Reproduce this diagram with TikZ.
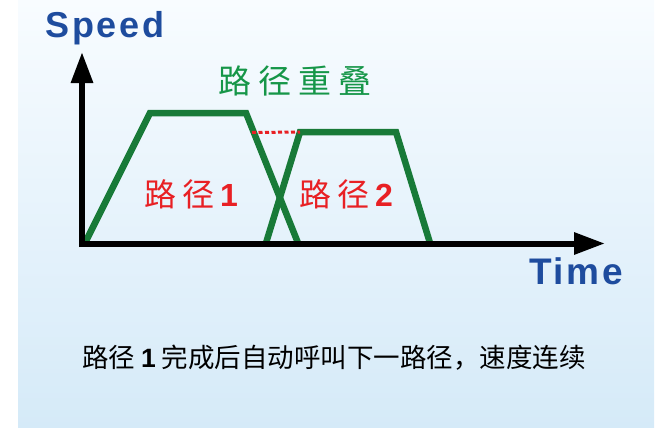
\documentclass[tikz,border=0pt]{standalone}
\usepackage{fontspec}
\usepackage{tikz}
\usetikzlibrary{arrows.meta}
\setmainfont{Liberation Sans}
\newfontfamily\cjk{Noto Sans CJK SC}
\newfontfamily\spaced[LetterSpace=7]{Liberation Sans}
\definecolor{axisblue}{RGB}{30,76,158}
\definecolor{pathgreen}{RGB}{24,122,56}
\definecolor{textgreen}{RGB}{22,150,72}
\definecolor{pathred}{RGB}{232,32,36}
\definecolor{paneltop}{RGB}{248,252,255}
\definecolor{panelbot}{RGB}{213,234,248}

\begin{document}
\begin{tikzpicture}[x=1pt,y=-1pt]
	\tikzstyle{axis}=[line width=6pt, -{Triangle[length=31pt,width=21pt]}];
	\tikzstyle{profile}=[line width=6.5pt, draw=pathgreen, line join=miter];
	\tikzstyle{overlap}=[line width=3pt, draw=pathred, dash pattern=on 4pt off 2.5pt];
	\tikzstyle{lnode}=[inner sep=0pt, font=\fontsize{36}{36}\spaced\bfseries\color{axisblue}];
	\tikzstyle{pnode}=[inner sep=0pt, font=\fontsize{32}{32}\selectfont\cjk\color{pathred}];
	\tikzstyle{gnode}=[inner sep=0pt, font=\fontsize{33}{33}\selectfont\cjk\color{textgreen}];
	\tikzstyle{dnode}=[inner sep=0pt, font=\fontsize{26.5}{26.5}\selectfont\cjk\color{black}];

	\useasboundingbox (0,0) rectangle (661,428);
	\shade[top color=paneltop, bottom color=panelbot] (18,0) rectangle (654,428);

	\coordinate (yfoot) at (82,247);
	\coordinate (ytip) at (82,52);
	\coordinate (xfoot) at (79,243.5);
	\coordinate (xtip) at (605,243.5);

	\coordinate (a0) at (85,243);
	\coordinate (a1) at (150,113);
	\coordinate (a2) at (246,113);
	\coordinate (a3) at (298,243);
	\coordinate (b0) at (266,243);
	\coordinate (b1) at (300,132);
	\coordinate (b2) at (396,132);
	\coordinate (b3) at (430,243);

	\draw[profile] (a0) -- (a1) -- (a2) -- (a3);
	\draw[profile] (b0) -- (b1) -- (b2) -- (b3);
	\draw[overlap] (252,132.5) -- (b1);

	\draw[axis] (yfoot) -- (ytip);
	\draw[axis] (xfoot) -- (xtip);

	\node[lnode] (speed) at (105,28) {Speed};
	\node[lnode, font=\fontsize{37}{37}\spaced\bfseries\color{axisblue}] (time) at (576,271) {Time};
	\node[gnode] (ovl) at (295,81) {路\hspace{7pt}径\hspace{7pt}重\hspace{7pt}叠};
	\node[pnode] (p1) at (191,194) {路\hspace{6pt}径\hspace{6pt}{\rmfamily\bfseries 1}};
	\node[pnode] (p2) at (346,194) {路\hspace{6pt}径\hspace{6pt}{\rmfamily\bfseries 2}};
	\node[dnode] (desc) at (334,358) {路径 {\rmfamily\bfseries 1} 完成后自动呼叫下一路径，速度连续};

\end{tikzpicture}
\end{document}
